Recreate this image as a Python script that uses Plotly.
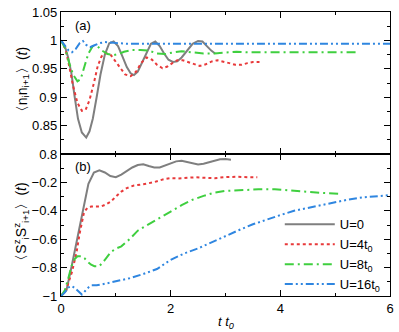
import plotly.graph_objects as go
from plotly.subplots import make_subplots

# ---- panel (a): <n_i n_i+1>(t) ----
t_a_u0 = [0, 0.07, 0.13, 0.19, 0.25, 0.31, 0.38, 0.46, 0.52, 0.58, 0.65, 0.72, 0.8, 0.88, 0.96,
          1.04, 1.12, 1.2, 1.27, 1.33, 1.4, 1.48, 1.56, 1.64, 1.72, 1.8, 1.88, 1.96, 2.04, 2.12,
          2.2, 2.3, 2.4, 2.5, 2.58, 2.66, 2.74, 2.81]
n_a_u0 = [1.0, 0.99, 0.97, 0.942, 0.90, 0.862, 0.838, 0.829, 0.84, 0.862, 0.9, 0.94, 0.975, 0.995, 0.998,
          0.99, 0.972, 0.953, 0.942, 0.939, 0.945, 0.962, 0.98, 0.994, 0.998, 0.99, 0.977, 0.966, 0.962, 0.963,
          0.97, 0.983, 0.994, 0.999, 0.998, 0.99, 0.982, 0.977]

t_a_u4 = [0, 0.08, 0.15, 0.22, 0.3, 0.38, 0.45, 0.52, 0.6, 0.67, 0.74, 0.82, 0.91, 1.0, 1.08, 1.17,
          1.27, 1.37, 1.46, 1.56, 1.66, 1.75, 1.85, 1.94, 2.03, 2.12, 2.22, 2.33, 2.44, 2.53, 2.64,
          2.75, 2.85, 2.96, 3.07, 3.18, 3.29, 3.4, 3.5, 3.62]
n_a_u4 = [1.0, 0.985, 0.955, 0.92, 0.89, 0.876, 0.878, 0.895, 0.925, 0.955, 0.972, 0.978, 0.974, 0.962, 0.95, 0.94,
          0.937, 0.945, 0.96, 0.97, 0.966, 0.957, 0.951, 0.954, 0.96, 0.965, 0.965, 0.961, 0.957, 0.955, 0.958,
          0.963, 0.965, 0.963, 0.96, 0.957, 0.957, 0.96, 0.962, 0.962]

t_a_u8 = [0, 0.08, 0.15, 0.22, 0.3, 0.36, 0.43, 0.5, 0.58, 0.66, 0.75, 0.85, 0.95, 1.05, 1.15, 1.3,
          1.45, 1.6, 1.75, 1.9, 2.05, 2.2, 2.4, 2.6, 2.8, 3.0, 3.2, 3.4, 3.7, 4.0, 4.3, 4.6, 5.0, 5.44]
n_a_u8 = [1.0, 0.985, 0.96, 0.94, 0.928, 0.932, 0.955, 0.977, 0.99, 0.99, 0.982, 0.976, 0.974, 0.976, 0.98, 0.983,
          0.983, 0.982, 0.977, 0.976, 0.979, 0.981, 0.979, 0.977, 0.977, 0.979, 0.98, 0.979, 0.979, 0.98, 0.979,
          0.98, 0.979, 0.979]

t_a_u16 = [0, 0.07, 0.14, 0.2, 0.27, 0.34, 0.4, 0.46, 0.53, 0.6, 0.7, 0.8, 0.9, 1.0, 1.2, 1.5, 2.0,
           2.5, 3.0, 3.5, 4.0, 4.5, 5.0, 5.5, 6.0]
n_a_u16 = [1.0, 0.99, 0.982, 0.979, 0.985, 0.995, 0.999, 0.992, 0.988, 0.991, 0.995, 0.997, 0.996, 0.995, 0.994,
           0.994, 0.994, 0.994, 0.994, 0.993, 0.994, 0.994, 0.994, 0.994, 0.994]

# ---- panel (b): <S^z_i S^z_i+1>(t) ----
t_b_u0 = [0, 0.1, 0.2, 0.3, 0.4, 0.5, 0.6, 0.7, 0.8, 0.9, 1.0, 1.1, 1.2, 1.3, 1.4, 1.5, 1.6, 1.7,
          1.8, 1.9, 2.0, 2.1, 2.2, 2.3, 2.4, 2.5, 2.6, 2.7, 2.8, 2.9, 3.0, 3.1]
s_b_u0 = [-1.0, -0.96, -0.78, -0.6, -0.4, -0.21, -0.13, -0.115, -0.13, -0.155, -0.163, -0.145, -0.12, -0.095,
          -0.078, -0.073, -0.085, -0.095, -0.095, -0.08, -0.062, -0.052, -0.048, -0.055, -0.067, -0.073,
          -0.068, -0.057, -0.045, -0.037, -0.035, -0.04]

t_b_u4 = [0, 0.1, 0.2, 0.28, 0.34, 0.38, 0.42, 0.48, 0.55, 0.65, 0.73, 0.82, 0.91, 1.0, 1.1, 1.2, 1.33,
          1.5, 1.7, 1.87, 2.0, 2.14, 2.3, 2.44, 2.6, 2.8, 3.0, 3.22, 3.4, 3.58]
s_b_u4 = [-1.0, -0.95, -0.83, -0.7, -0.56, -0.48, -0.41, -0.38, -0.37, -0.37, -0.37, -0.355, -0.335, -0.3,
          -0.265, -0.24, -0.222, -0.213, -0.198, -0.178, -0.17, -0.172, -0.168, -0.164, -0.167, -0.17,
          -0.163, -0.16, -0.163, -0.164]

t_b_u8 = [0, 0.07, 0.13, 0.19, 0.25, 0.3, 0.37, 0.43, 0.49, 0.55, 0.61, 0.7, 0.79, 0.91, 1.01, 1.1, 1.25,
          1.4, 1.55, 1.7, 1.85, 2.0, 2.2, 2.4, 2.6, 2.8, 3.0, 3.3, 3.6, 3.9, 4.2, 4.5, 4.8, 5.06]
s_b_u8 = [-1.0, -0.96, -0.88, -0.79, -0.74, -0.72, -0.72, -0.735, -0.76, -0.78, -0.79, -0.79, -0.75, -0.69,
          -0.665, -0.65, -0.6, -0.54, -0.505, -0.47, -0.435, -0.405, -0.36, -0.322, -0.295, -0.272, -0.26,
          -0.252, -0.249, -0.248, -0.255, -0.267, -0.275, -0.28]

t_b_u16 = [0, 0.07, 0.13, 0.2, 0.27, 0.33, 0.38, 0.44, 0.5, 0.56, 0.65, 0.75, 0.9, 1.0, 1.25, 1.5, 1.75,
           2.0, 2.25, 2.5, 2.75, 3.0, 3.25, 3.5, 3.75, 4.0, 4.25, 4.5, 4.75, 5.0, 5.25, 5.5, 5.75, 6.0]
s_b_u16 = [-1.0, -0.975, -0.94, -0.93, -0.95, -0.975, -0.99, -0.965, -0.94, -0.925, -0.925, -0.918, -0.905,
           -0.895, -0.875, -0.845, -0.81, -0.745, -0.70, -0.665, -0.62, -0.575, -0.535, -0.495, -0.46, -0.43,
           -0.40, -0.38, -0.355, -0.335, -0.32, -0.305, -0.297, -0.29]

labels = ["U=0", "U=4t<sub>0</sub>", "U=8t<sub>0</sub>", "U=16t<sub>0</sub>"]
xticks = [0, 2, 4, 6]
yticks_a = [0.8, 0.85, 0.9, 0.95, 1.0, 1.05]
yticklabels_a = ["0.8", "0.85", "0.9", "0.95", "1", "1.05"]
yticks_b = [-1, -0.8, -0.6, -0.4, -0.2]

styles = [
    dict(color="#7f7f7f", width=2, dash="solid"),
    dict(color="#e8393a", width=2, dash="dot"),
    dict(color="#3fcf3f", width=2, dash="9px,4px,2px,4px"),
    dict(color="#2f86e0", width=2, dash="8px,3px,2px,3px,2px,3px"),
]

series_a = [(t_a_u0, n_a_u0), (t_a_u4, n_a_u4), (t_a_u8, n_a_u8), (t_a_u16, n_a_u16)]
series_b = [(t_b_u0, s_b_u0), (t_b_u4, s_b_u4), (t_b_u8, s_b_u8), (t_b_u16, s_b_u16)]

FONT = "Arial, Liberation Sans, sans-serif"

fig = make_subplots(rows=2, cols=1, shared_xaxes=True, vertical_spacing=0)

for (t, v), st, lab in zip(series_a, styles, labels):
    fig.add_trace(go.Scatter(x=t, y=v, mode="lines", line=st, name=lab, showlegend=False),
                  row=1, col=1)
for (t, v), st, lab in zip(series_b, styles, labels):
    fig.add_trace(go.Scatter(x=t, y=v, mode="lines", line=st, name=lab), row=2, col=1)

ax_common = dict(showline=True, linecolor="black", linewidth=1.3, mirror="ticks",
                 ticks="inside", ticklen=6, tickcolor="black", showgrid=False, zeroline=False,
                 ticklabeloverflow="allow",
                 tickfont=dict(size=13, color="black", family=FONT))

fig.update_xaxes(range=[0, 6], tickvals=xticks, **ax_common,
                 minor=dict(ticks="inside", ticklen=3, tickvals=[1, 3, 5], tickcolor="black"))
fig.update_xaxes(showticklabels=False, row=1, col=1)

fig.update_yaxes(range=[0.8, 1.05], tickvals=yticks_a, ticktext=yticklabels_a,
                 row=1, col=1, **ax_common,
                 minor=dict(ticks="inside", ticklen=3, dtick=0.025, tickcolor="black"),
                 title=dict(text="〈n<sub>i</sub>n<sub>i+1</sub>〉(<i>t</i>)",
                            font=dict(size=14, family=FONT), standoff=1))
fig.update_yaxes(range=[-1, 0], tickvals=yticks_b, row=2, col=1, **ax_common,
                 minor=dict(ticks="inside", ticklen=3, dtick=0.1, tickcolor="black"),
                 title=dict(text="〈S<sup>z</sup><sub>i</sub>S<sup>z</sup><sub>i+1</sub>〉(<i>t</i>)",
                            font=dict(size=14, family=FONT), standoff=1))

# x-axis title, placed as text just under the tick labels
fig.add_annotation(text="<i>t t<sub>0</sub></i>", x=0.5, y=-0.055, xref="paper", yref="paper",
                   showarrow=False, xanchor="center", yanchor="top",
                   font=dict(size=13, family=FONT, color="black"))

fig.add_annotation(text="(a)", x=0.035, y=0.985, xref="paper", yref="paper", showarrow=False,
                   xanchor="left", yanchor="top", font=dict(size=13, family=FONT, color="black"))
fig.add_annotation(text="(b)", x=0.035, y=0.49, xref="paper", yref="paper", showarrow=False,
                   xanchor="left", yanchor="top", font=dict(size=13, family=FONT, color="black"))

fig.update_layout(
    width=399, height=332,
    margin=dict(l=61, r=5, t=6, b=36),
    plot_bgcolor="white", paper_bgcolor="white",
    font=dict(family=FONT, color="black", size=13),
    legend=dict(x=0.665, y=0.305, xanchor="left", yanchor="top", bgcolor="rgba(0,0,0,0)",
                font=dict(size=13, family=FONT), tracegroupgap=0, itemwidth=50),
)

# drop the page's default body margin so the figure sits at the window's corner
fig.write_html("out.html", config={"displayModeBar": False},
               post_script="document.body.style.margin='0';")
